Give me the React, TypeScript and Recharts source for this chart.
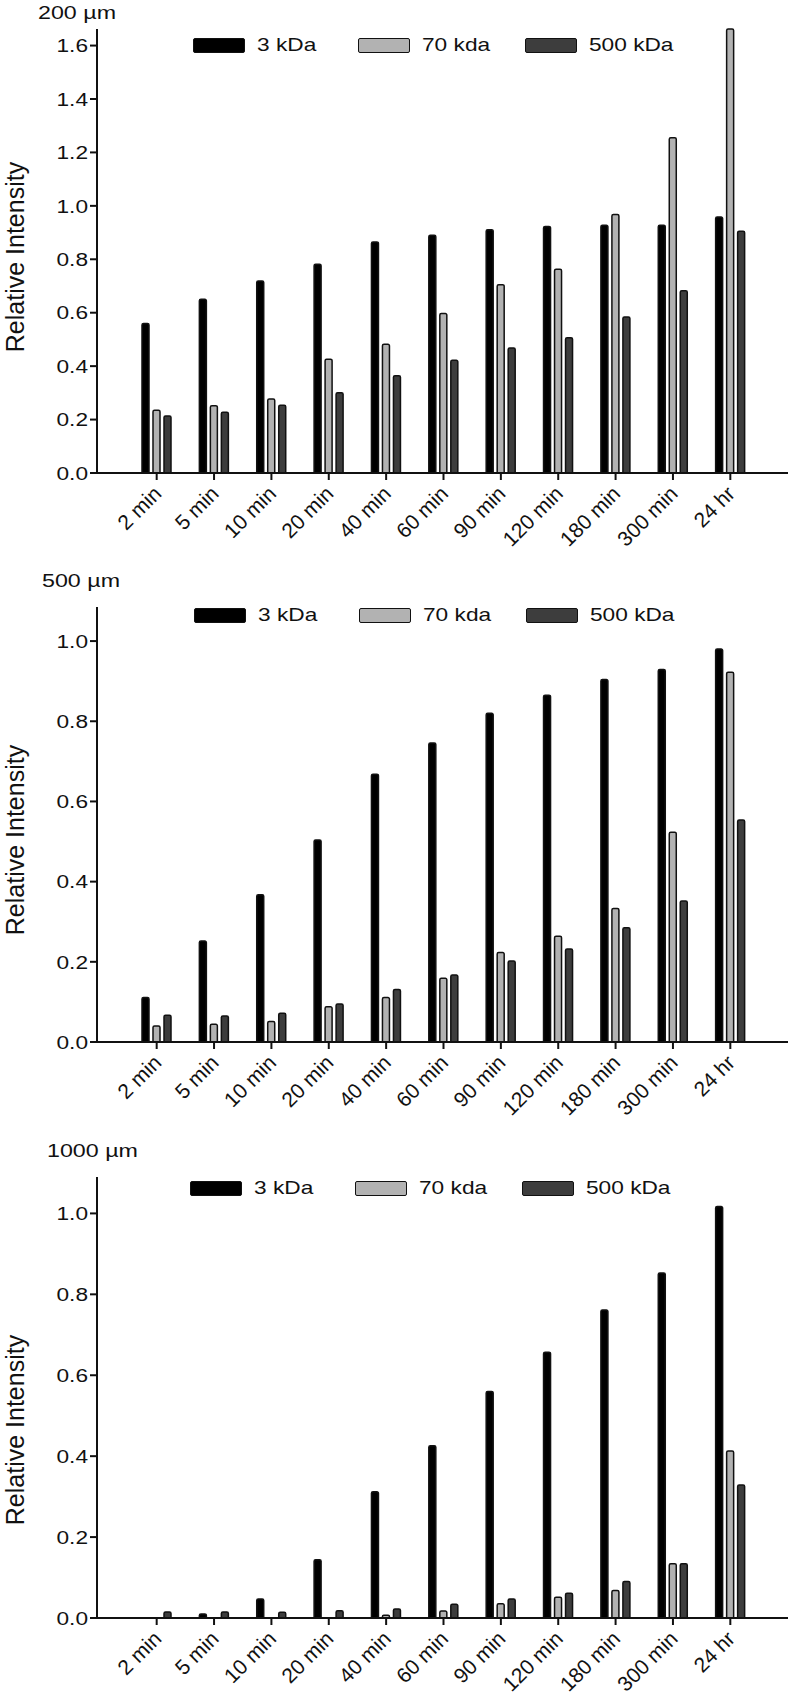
import React from 'react';
import { BarChart, Bar, XAxis, YAxis, Legend } from 'recharts';

const FONT = '"Liberation Sans", Arial, Helvetica, sans-serif';

const categories = ['2 min', '5 min', '10 min', '20 min', '40 min', '60 min', '90 min', '120 min', '180 min', '300 min', '24 hr'];
const seriesNames = ['3 kDa', '70 kda', '500 kDa'];
const seriesFills = ['#000000', '#b2b2b2', '#3d3d3d'];

const um200_3k = [0.56, 0.65, 0.719, 0.781, 0.865, 0.89, 0.911, 0.923, 0.927, 0.927, 0.958];
const um200_70k = [0.235, 0.252, 0.277, 0.426, 0.482, 0.597, 0.705, 0.763, 0.968, 1.255, 1.662];
const um200_500k = [0.213, 0.227, 0.254, 0.3, 0.364, 0.422, 0.468, 0.506, 0.584, 0.682, 0.905];

const um500_3k = [0.111, 0.252, 0.367, 0.504, 0.668, 0.746, 0.82, 0.865, 0.904, 0.929, 0.98];
const um500_70k = [0.04, 0.044, 0.051, 0.088, 0.111, 0.159, 0.223, 0.264, 0.333, 0.523, 0.922];
const um500_500k = [0.067, 0.065, 0.072, 0.095, 0.131, 0.167, 0.202, 0.232, 0.285, 0.352, 0.554];

const um1000_3k = [0, 0.01, 0.047, 0.144, 0.312, 0.426, 0.56, 0.657, 0.761, 0.853, 1.017];
const um1000_70k = [0, 0, 0, 0, 0.007, 0.017, 0.035, 0.051, 0.068, 0.134, 0.413];
const um1000_500k = [0.015, 0.015, 0.014, 0.018, 0.022, 0.034, 0.047, 0.061, 0.09, 0.134, 0.329];

const ticksTo16 = [0, 0.2, 0.4, 0.6, 0.8, 1.0, 1.2, 1.4, 1.6];
const ticksTo10 = [0, 0.2, 0.4, 0.6, 0.8, 1.0];

const buildRows = (a: number[], b: number[], c: number[]) =>
  categories.map((cat, i) => ({ cat, s0: a[i], s1: b[i], s2: c[i] }));

const legendOffsets = [0, 165, 332];

const YTick = (props: any) => {
  const { x, y, payload } = props;
  return (
    <g transform={`translate(${x},${y})`}>
      <text transform="scale(1.22,1)" textAnchor="end" dy="0.36em" fontSize={18.6} fontFamily={FONT} fill="#111">
        {Number(payload.value).toFixed(1)}
      </text>
    </g>
  );
};

const XTick = (props: any) => {
  const { x, y, payload } = props;
  return (
    <g transform={`translate(${x + 6},${y + 13})`}>
      <text transform="rotate(-45)" textAnchor="end" fontSize={21} fontFamily={FONT} fill="#111">
        {payload.value}
      </text>
    </g>
  );
};

const renderLegend = (props: any) => {
  const payload = [...(props.payload || [])].sort(
    (p: any, q: any) => seriesNames.indexOf(p.value) - seriesNames.indexOf(q.value)
  );
  return (
    <div style={{ position: 'relative', height: 20, width: 520 }}>
      {payload.map((entry: any, i: number) => (
        <div
          key={entry.value}
          style={{ position: 'absolute', left: legendOffsets[i], top: 0, height: 20, display: 'flex', alignItems: 'center' }}
        >
          <div
            style={{
              width: 52,
              height: 15,
              background: entry.color,
              border: '1.5px solid #111',
              borderRadius: 2,
              boxSizing: 'border-box',
            }}
          />
          <span
            style={{
              marginLeft: 12,
              fontSize: 18.6,
              fontFamily: FONT,
              color: '#111',
              display: 'inline-block',
              whiteSpace: 'nowrap',
              transform: 'scaleX(1.22)',
              transformOrigin: 'left center',
              lineHeight: '20px',
            }}
          >
            {entry.value}
          </span>
        </div>
      ))}
    </div>
  );
};

type PanelProps = {
  top: number;
  height: number;
  marginTop: number;
  marginBottom: number;
  domainMax: number;
  ticks: number[];
  rows: any[];
  labelY: number;
  legendTop: number;
  legendLeft: number;
};

const Panel = ({ top, height, marginTop, marginBottom, domainMax, ticks, rows, labelY, legendTop, legendLeft }: PanelProps) => (
  <div style={{ position: 'absolute', left: 0, top, width: 792, height }}>
    <BarChart
      width={792}
      height={height}
      data={rows}
      margin={{ top: marginTop, right: 4, bottom: marginBottom, left: 27 }}
      barGap={4}
    >
      <XAxis
        dataKey="cat"
        interval={0}
        height={80}
        padding={{ left: 31, right: 29 }}
        tickSize={7}
        axisLine={{ stroke: '#111', strokeWidth: 2 }}
        tickLine={{ stroke: '#111', strokeWidth: 2 }}
        tick={<XTick />}
      />
      <YAxis
        width={70}
        domain={[0, domainMax]}
        ticks={ticks}
        allowDataOverflow={false}
        tickSize={7}
        axisLine={{ stroke: '#111', strokeWidth: 2 }}
        tickLine={{ stroke: '#111', strokeWidth: 2 }}
        tick={<YTick />}
        label={(p: any) => (
          <text
            x={24}
            y={labelY}
            transform={`rotate(-90, 24, ${labelY})`}
            textAnchor="middle"
            fontSize={25}
            fontFamily={FONT}
            fill="#111"
          >
            Relative Intensity
          </text>
        )}
      />
      <Legend
        layout="horizontal"
        verticalAlign="middle"
        align="center"
        content={renderLegend}
        wrapperStyle={{ position: 'absolute', top: legendTop, left: legendLeft, width: 520, height: 20 }}
      />
      {seriesNames.map((name, i) => (
        <Bar
          key={name}
          dataKey={`s${i}`}
          name={name}
          fill={seriesFills[i]}
          stroke="#111"
          strokeWidth={1.5}
          barSize={7}
          radius={[1.5, 1.5, 0, 0]}
          isAnimationActive={false}
        />
      ))}
    </BarChart>
  </div>
);

const Title = ({ text, left, top }: { text: string; left: number; top: number }) => (
  <div
    style={{
      position: 'absolute',
      left,
      top,
      fontSize: 18.6,
      lineHeight: '18.6px',
      fontFamily: FONT,
      color: '#111',
      whiteSpace: 'nowrap',
      transform: 'scaleX(1.25)',
      transformOrigin: 'left top',
    }}
  >
    {text}
  </div>
);

export default function App() {
  return (
    <div style={{ position: 'absolute', left: 0, top: 0, width: 792, height: 1702, background: '#fff', overflow: 'hidden' }}>
      <Panel
        top={0}
        height={560}
        marginTop={29}
        marginBottom={7}
        domainMax={1.66}
        ticks={ticksTo16}
        rows={buildRows(um200_3k, um200_70k, um200_500k)}
        labelY={257}
        legendTop={35}
        legendLeft={193}
      />
      <Panel
        top={560}
        height={570}
        marginTop={47}
        marginBottom={8}
        domainMax={1.085}
        ticks={ticksTo10}
        rows={buildRows(um500_3k, um500_70k, um500_500k)}
        labelY={280}
        legendTop={45}
        legendLeft={194}
      />
      <Panel
        top={1130}
        height={572}
        marginTop={47}
        marginBottom={4}
        domainMax={1.09}
        ticks={ticksTo10}
        rows={buildRows(um1000_3k, um1000_70k, um1000_500k)}
        labelY={300}
        legendTop={48}
        legendLeft={190}
      />
      <Title text="200 µm" left={38} top={4} />
      <Title text="500 µm" left={42} top={572} />
      <Title text="1000 µm" left={47} top={1142} />
    </div>
  );
}
